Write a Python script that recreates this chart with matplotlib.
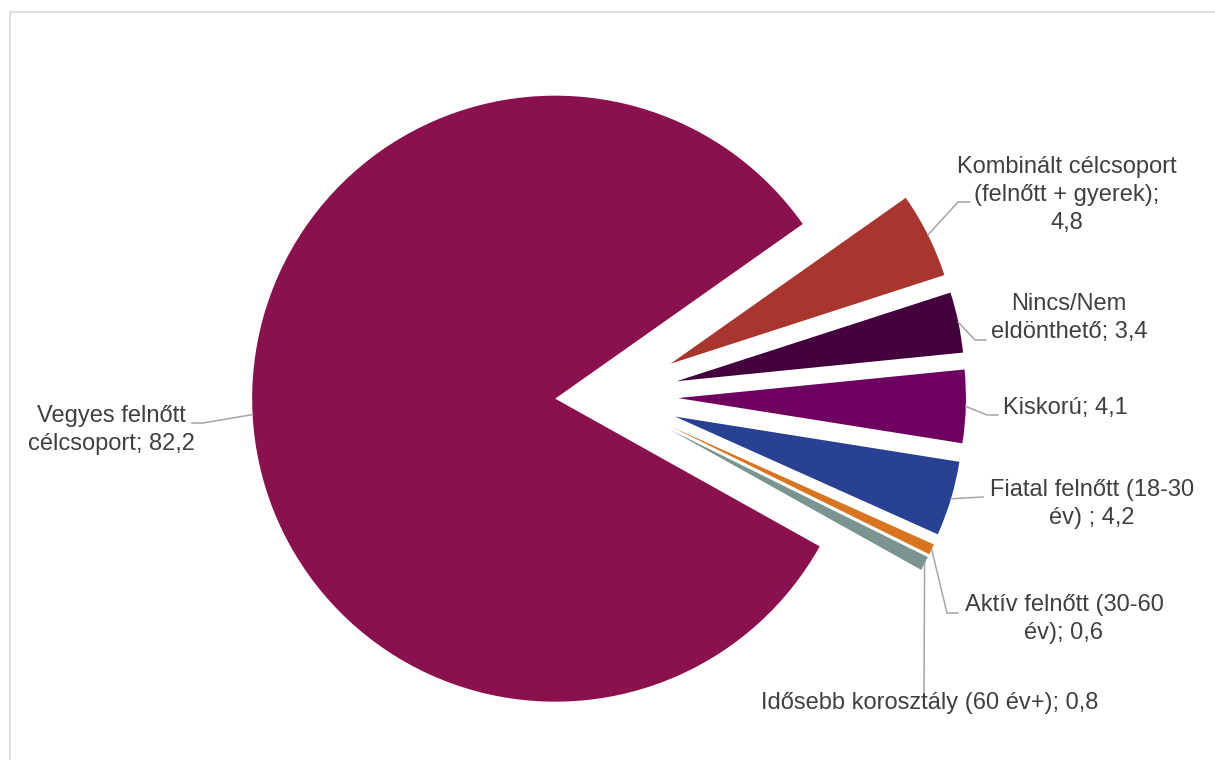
import matplotlib
matplotlib.use("Agg")
import matplotlib.pyplot as plt
import numpy as np
from matplotlib.lines import Line2D

# data, clockwise from the upper edge of the big slice
categories = ["Kombinált célcsoport (felnőtt + gyerek)", "Nincs/Nem eldönthető", "Kiskorú",
              "Fiatal felnőtt (18-30 év) ", "Aktív felnőtt (30-60 év)",
              "Idősebb korosztály (60 év+)", "Vegyes felnőtt célcsoport"]
values = [4.8, 3.4, 4.1, 4.2, 0.6, 0.8, 82.2]
labels = ["Kombinált célcsoport\n(felnőtt + gyerek);\n4,8", "Nincs/Nem\neldönthető; 3,4",
          "Kiskorú; 4,1", "Fiatal felnőtt (18-30\név) ; 4,2", "Aktív felnőtt (30-60\név); 0,6",
          "Idősebb korosztály (60 év+); 0,8", "Vegyes felnőtt\ncélcsoport; 82,2"]
colors = ["#A9352F", "#43003D", "#6E005F", "#284193", "#D9741F", "#7A9490", "#8B104E"]

# layout in pixels of the 1215x760 picture
CX, CY, R = 606, 396, 303


def px(x, y):
    return (x - CX) / R, (CY - y) / R


label_pos = [(1067, 195), (1069, 318), (1065, 408), (1092, 504), (1064, 619), (930, 703), (111, 430)]
elbows = [[(958, 202), (970, 202)], [(975, 340), (986, 340)], [(987, 415), (998, 415)],
          [(983, 497)], [(947, 613), (958, 613)], [(924, 695)], [(203, 423), (192, 423)]]

plt.rcParams['font.family'] = ['Liberation Sans', 'DejaVu Sans']

fig = plt.figure(figsize=(12.15, 7.6), dpi=100)
ax = fig.add_axes([0, 0, 1, 1])
ax.axis('off')

explode = [0.238] * 6 + [0.168]
wedges, _ = ax.pie(values, colors=colors, explode=explode, startangle=35.2, counterclock=False,
                   radius=1.0, wedgeprops=dict(linewidth=0), normalize=True)
ax.set_xlim((0 - CX) / R, (1215 - CX) / R)
ax.set_ylim((CY - 760) / R, CY / R)
for w in wedges[:6]:
    w.set_radius(0.95)

line_col = "#A6A6A6"
for w, lab, pos, el in zip(wedges, labels, label_pos, elbows):
    mid = np.deg2rad((w.theta1 + w.theta2) / 2)
    sx = w.center[0] + w.r * np.cos(mid)
    sy = w.center[1] + w.r * np.sin(mid)
    pts = [(sx, sy)] + [px(*p) for p in el]
    ax.plot([p[0] for p in pts], [p[1] for p in pts], color=line_col, lw=1.1,
            solid_joinstyle='miter')
    tx, ty = px(*pos)
    ax.text(tx, ty, lab, ha='center', va='center', fontsize=17, color='#404040',
            linespacing=1.33)

# chart area border (only top and left visible)
fig.add_artist(Line2D([10 / 1215, 1], [1 - 12 / 760, 1 - 12 / 760], color='#D9D9D9', lw=1.1,
                      transform=fig.transFigure))
fig.add_artist(Line2D([10 / 1215, 10 / 1215], [0, 1 - 12 / 760], color='#D9D9D9', lw=1.1,
                      transform=fig.transFigure))

fig.savefig("out.png", dpi=100)
